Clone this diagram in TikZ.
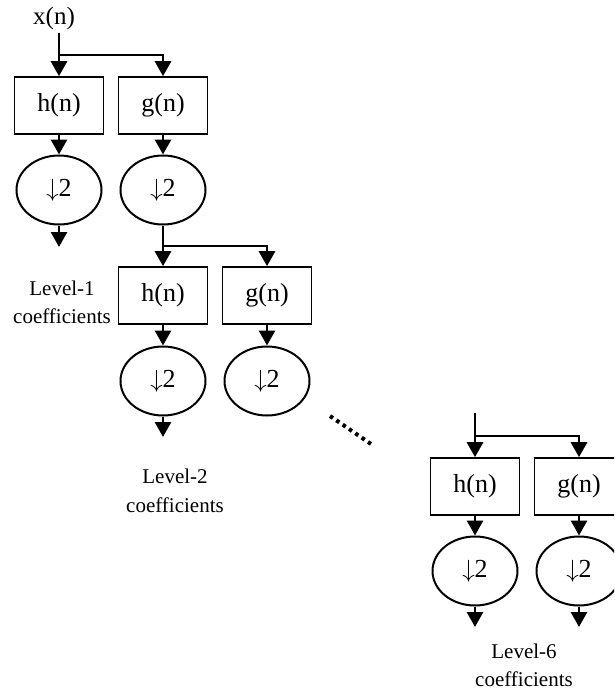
\documentclass[tikz,border=0pt]{standalone}
\usepackage{fontspec}
\setmainfont{Liberation Serif}
\usetikzlibrary{shapes.geometric,arrows.meta}
\newcommand{\dnarr}{\(\downarrow\)}
\begin{document}
\begin{tikzpicture}[x=1pt,y=-1pt,
 conn/.style={line width=2.8pt,-{Triangle[width=16pt,length=15pt]}},
 filt/.style={draw,line width=1.6pt,minimum width=89pt,minimum height=57pt,inner sep=0pt,font=\fontsize{26}{30}\selectfont},
 down/.style={draw,ellipse,line width=2pt,minimum width=85pt,minimum height=69pt,inner sep=0pt,font=\fontsize{26}{30}\selectfont},
 lbl/.style={anchor=base,inner sep=0pt,font=\fontsize{21}{25}\selectfont},
 dots/.style={line width=4pt,dash pattern=on 3.6pt off 4.07pt}]
\useasboundingbox (0,0) rectangle (614,690);
\clip (0,0) rectangle (614,690);

% stage 1
\node[lbl,font=\fontsize{25}{30}\selectfont] (xn) at (54,25) {x(n)};
\coordinate (s1top) at (59,33);
\coordinate (s1split) at (59,55);
\node[filt] (h1) at (59,105.5) {h(n)};
\node[filt] (g1) at (163,105.5) {g(n)};
\node[down] (dh1) at (59,190) {\dnarr2};
\node[down] (dg1) at (163,190) {\dnarr2};
\coordinate (o1) at (59,247);
\draw[conn] (s1top) -- (h1.north);
\draw[conn] (s1split) -| (g1.north);
\draw[conn] (h1.south) -- (dh1.north);
\draw[conn] (g1.south) -- (dg1.north);
\draw[conn] (dh1.south) -- (o1);
\node[lbl] (l1a) at (62,295) {Level-1};
\node[lbl] (l1b) at (62,323) {coefficients};

% stage 2
\node[filt] (h2) at (163,295.5) {h(n)};
\node[filt] (g2) at (267,295.5) {g(n)};
\node[down] (dh2) at (163,381) {\dnarr2};
\node[down] (dg2) at (267,381) {\dnarr2};
\coordinate (s2split) at (163,246);
\coordinate (o2) at (163,437);
\draw[conn] (dg1.south) -- (h2.north);
\draw[conn] (s2split) -| (g2.north);
\draw[conn] (h2.south) -- (dh2.north);
\draw[conn] (g2.south) -- (dg2.north);
\draw[conn] (dh2.south) -- (o2);
\node[lbl] (l2a) at (175,483) {Level-2};
\node[lbl] (l2b) at (175,512) {coefficients};

% dots
\coordinate (d1) at (330,416);
\coordinate (d2) at (371,444);
\draw[dots] (d1) -- (d2);

% stage 6
\coordinate (s3top) at (475,413);
\coordinate (s3split) at (475,436);
\node[filt] (h3) at (475,486.5) {h(n)};
\node[filt] (g3) at (579,486.5) {g(n)};
\node[down] (dh3) at (475,571) {\dnarr2};
\node[down] (dg3) at (579,571) {\dnarr2};
\coordinate (o3h) at (475,627);
\coordinate (o3g) at (579,627);
\draw[conn] (s3top) -- (h3.north);
\draw[conn] (s3split) -| (g3.north);
\draw[conn] (h3.south) -- (dh3.north);
\draw[conn] (g3.south) -- (dg3.north);
\draw[conn] (dh3.south) -- (o3h);
\draw[conn] (dg3.south) -- (o3g);
\node[lbl] (l6a) at (524,658) {Level-6};
\node[lbl] (l6b) at (524,686) {coefficients};
\end{tikzpicture}
\end{document}
